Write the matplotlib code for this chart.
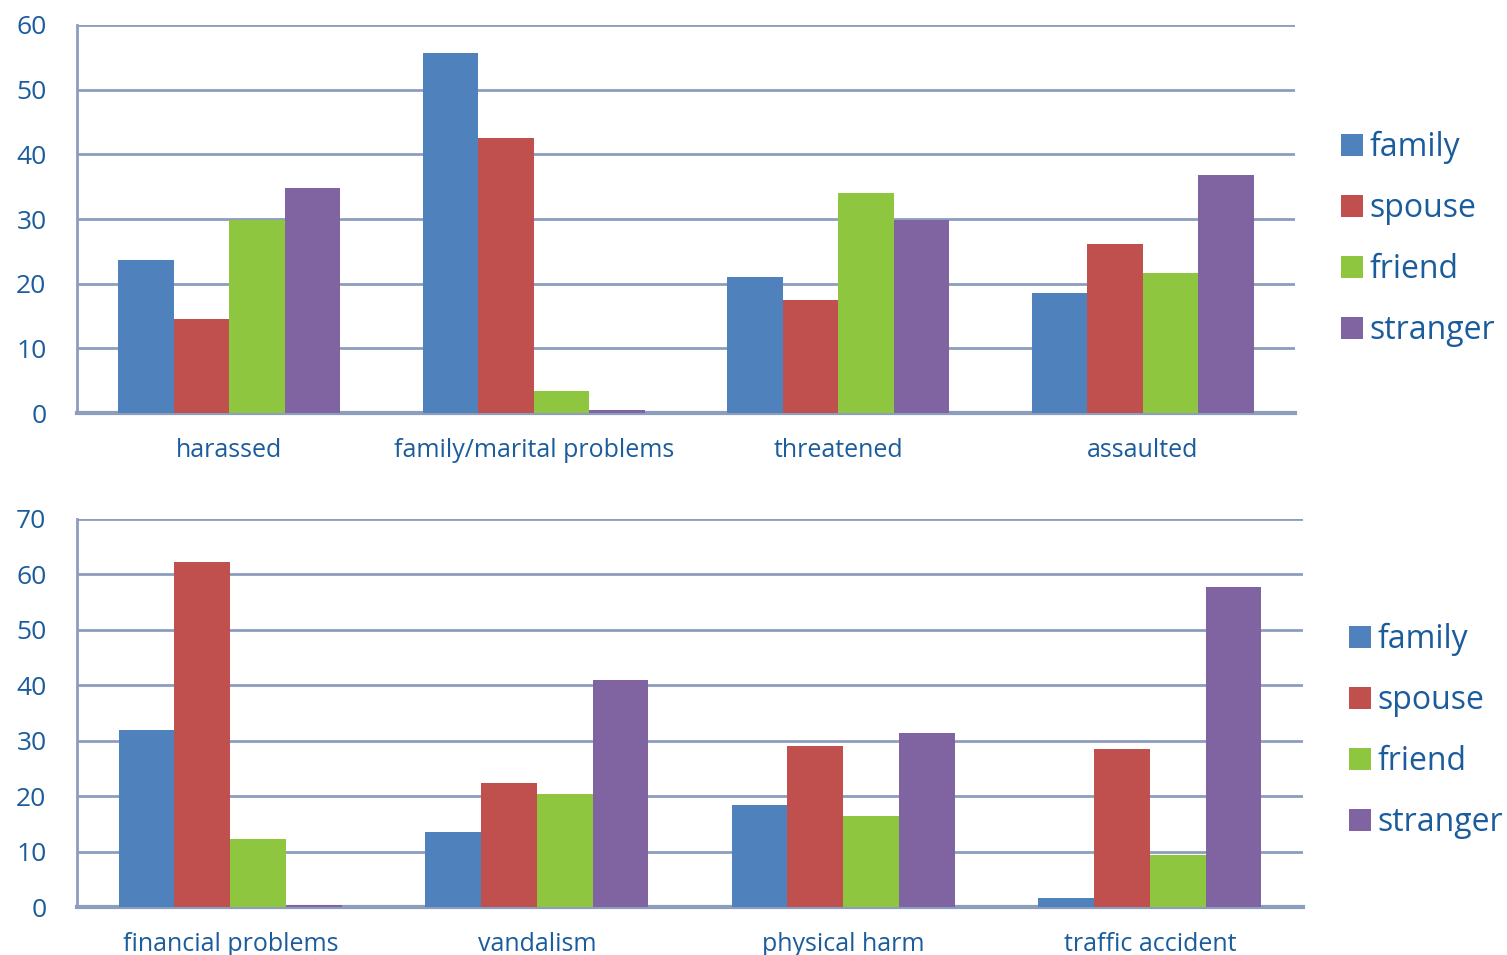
import matplotlib
matplotlib.use("Agg")
import matplotlib.pyplot as plt
import numpy as np

plt.rcParams['font.family'] = ['Open Sans', 'DejaVu Sans']

groups = ['family', 'spouse', 'friend', 'stranger']
colors = ['#4F81BD', '#C0504D', '#8EC63F', '#8064A2']

top_cats = ['harassed', 'family/marital problems', 'threatened', 'assaulted']
top_vals = {
    'family':   [23.6, 55.7, 21.0, 18.6],
    'spouse':   [14.5, 42.6, 17.4, 26.1],
    'friend':   [29.9, 3.4, 34.0, 21.6],
    'stranger': [34.8, 0.5, 29.9, 36.8],
}

bot_cats = ['financial problems', 'vandalism', 'physical harm', 'traffic accident']
bot_vals = {
    'family':   [31.9, 13.6, 18.4, 1.6],
    'spouse':   [62.2, 22.3, 29.0, 28.5],
    'friend':   [12.2, 20.4, 16.5, 9.4],
    'stranger': [0.4, 40.9, 31.4, 57.8],
}

txt = '#1B5C9C'
axc = '#8C9DBE'
W, H = 1507, 955
fig = plt.figure(figsize=(W / 100, H / 100), dpi=100)


def panel(rect, cats, vals, ymax, legend_xy):
    ax = fig.add_axes(rect)
    x = np.arange(len(cats))
    w = 0.182
    for i, g in enumerate(groups):
        ax.bar(x + (i - 1.5) * w, vals[g], w, color=colors[i], label=g, zorder=3)
    ax.set_xlim(-0.5, len(cats) - 0.5)
    ax.set_ylim(0, ymax)
    ax.set_yticks(np.arange(0, ymax + 1, 10))
    ax.set_xticks(x)
    ax.set_xticklabels(cats)
    ax.yaxis.grid(True, color=axc, linewidth=2, zorder=0)
    ax.set_axisbelow(True)
    for s in ['top', 'right']:
        ax.spines[s].set_visible(False)
    ax.spines['left'].set_color(axc)
    ax.spines['left'].set_linewidth(2)
    ax.spines['bottom'].set_color(axc)
    ax.spines['bottom'].set_linewidth(3)
    ax.spines['bottom'].set_zorder(2)
    ax.tick_params(axis='y', length=0, pad=22, labelsize=19, labelcolor=txt)
    ax.tick_params(axis='x', length=0, pad=18, labelsize=18, labelcolor=txt)
    ax.legend(loc='center left', bbox_to_anchor=legend_xy, bbox_transform=fig.transFigure,
              frameon=False, fontsize=23, labelcolor=txt, handlelength=0.7,
              handleheight=0.7, handletextpad=0.2, labelspacing=0.88,
              borderpad=0, borderaxespad=0)
    return ax


panel([77 / W, 1 - 413 / H, 1218 / W, 388 / H], top_cats, top_vals, 60,
      (1341 / W, 1 - 239 / H))
panel([77 / W, 1 - 907 / H, 1226 / W, 388 / H], bot_cats, bot_vals, 70,
      (1349 / W, 1 - 731 / H))

fig.savefig('out.png', dpi=100)
